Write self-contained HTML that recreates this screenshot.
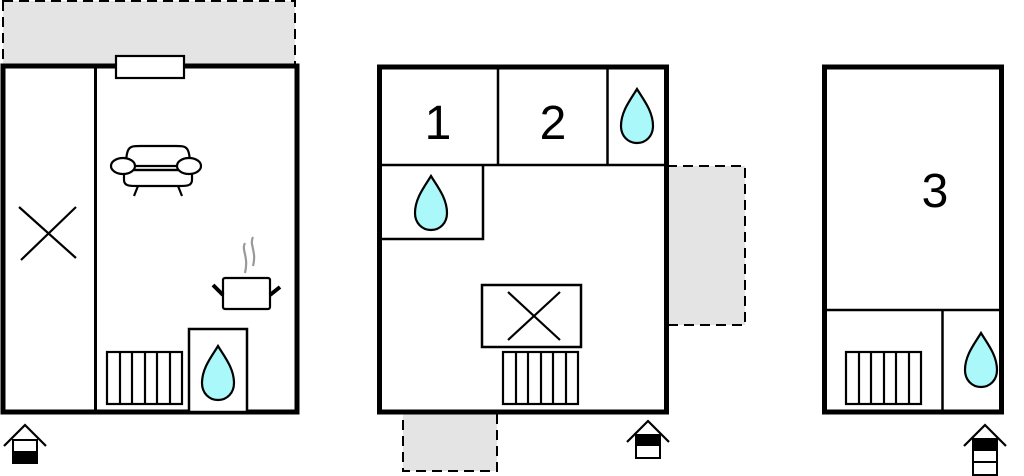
<!DOCTYPE html>
<html><head><style>html,body{margin:0;padding:0;background:#fff}svg{display:block}</style></head>
<body>
<svg width="1024" height="476" viewBox="0 0 1024 476" xmlns="http://www.w3.org/2000/svg">
<defs>
<path id="drop" d="M0,-28 C-6,-18 -16,-6 -16,9 C-16,19 -9,26 0,26 C9,26 16,19 16,9 C16,-6 6,-18 0,-28 Z" fill="#aaf8fa" stroke="#000" stroke-width="2.2"/>
<g id="rad" fill="none" stroke="#000" stroke-width="2.2">
<rect x="0" y="0" width="75" height="52" fill="#fff"/>
<line x1="13" y1="0" x2="13" y2="52"/><line x1="25" y1="0" x2="25" y2="52"/><line x1="38" y1="0" x2="38" y2="52"/><line x1="50" y1="0" x2="50" y2="52"/><line x1="63" y1="0" x2="63" y2="52"/>
</g>
</defs>
<g font-family="Liberation Sans, sans-serif">
<!-- plan 1 -->
<rect x="3" y="1" width="292" height="65" fill="#e4e4e4" stroke="#000" stroke-width="2" stroke-dasharray="10,6"/>
<rect x="3" y="66" width="294" height="346" fill="#fff" stroke="#000" stroke-width="5"/>
<line x1="95.5" y1="66" x2="95.5" y2="412" stroke="#000" stroke-width="3"/>
<rect x="116" y="56" width="68" height="22" fill="#fff" stroke="#000" stroke-width="2.2"/>
<line x1="19" y1="207" x2="76" y2="258" stroke="#000" stroke-width="2.2"/>
<line x1="21" y1="260" x2="76" y2="207" stroke="#000" stroke-width="2.2"/>
<!-- sofa -->
<g fill="#fff" stroke="#000" stroke-width="2.2">
<line x1="138" y1="186" x2="134" y2="196"/><line x1="178" y1="186" x2="182" y2="196"/>
<path d="M126,166 C126,146 130,146 140,146 L176,146 C186,146 190,146 190,166 Z"/>
<path d="M124,170 L124,180 C124,186 130,186 136,186 L180,186 C186,186 192,186 192,180 L192,170 Z"/>
<line x1="134" y1="170" x2="182" y2="170"/>
<ellipse cx="123" cy="166" rx="12" ry="8"/>
<ellipse cx="189" cy="166" rx="12" ry="8"/>
</g>
<!-- pot -->
<path d="M245,243 C241,250 249,256 245,273 M253,237 C249,245 257,251 253,266" fill="none" stroke="#999" stroke-width="2.2"/>
<rect x="223" y="278" width="47" height="31" rx="2" fill="#fff" stroke="#000" stroke-width="2.2"/>
<line x1="213" y1="285" x2="223" y2="295" stroke="#000" stroke-width="4"/>
<line x1="280" y1="287" x2="270" y2="295" stroke="#000" stroke-width="4"/>
<rect x="189" y="329" width="58" height="83" fill="#fff" stroke="#000" stroke-width="2.5"/>
<use href="#drop" x="218" y="374"/>
<use href="#rad" x="107" y="352"/>
<!-- entrance 1 -->
<polyline points="4,446 25,425 46,446" fill="none" stroke="#000" stroke-width="2.2"/>
<rect x="13" y="440" width="24" height="23" fill="#fff" stroke="#000" stroke-width="2"/>
<rect x="13" y="451" width="24" height="12" fill="#000"/>

<!-- plan 2 -->
<rect x="667" y="166" width="78" height="159" fill="#e4e4e4" stroke="#000" stroke-width="2" stroke-dasharray="10,6"/>
<rect x="403" y="412" width="94" height="59" fill="#e4e4e4" stroke="#000" stroke-width="2" stroke-dasharray="10,6"/>
<rect x="379.5" y="67" width="287" height="345" fill="#fff" stroke="#000" stroke-width="5"/>
<g stroke="#000" stroke-width="2.5" fill="none">
<line x1="380" y1="165" x2="667" y2="165"/>
<line x1="498" y1="67" x2="498" y2="165"/>
<line x1="607.5" y1="67" x2="607.5" y2="165"/>
<polyline points="380,239 483,239 483,165"/>
</g>
<text x="438" y="139" font-size="48" text-anchor="middle">1</text>
<text x="553" y="139" font-size="48" text-anchor="middle">2</text>
<use href="#drop" x="637" y="117"/>
<use href="#drop" x="431" y="204"/>
<rect x="482" y="285" width="99" height="62" fill="#fff" stroke="#000" stroke-width="2.5"/>
<line x1="508" y1="292" x2="560" y2="340" stroke="#000" stroke-width="2.2"/>
<line x1="508" y1="340" x2="560" y2="292" stroke="#000" stroke-width="2.2"/>
<use href="#rad" x="503" y="352"/>
<!-- entrance 2 -->
<polyline points="627,442 648,421 669,442" fill="none" stroke="#000" stroke-width="2.2"/>
<rect x="636" y="435" width="24" height="23" fill="#fff" stroke="#000" stroke-width="2"/>
<rect x="636" y="435" width="24" height="11" fill="#000"/>

<!-- plan 3 -->
<rect x="824.5" y="67" width="177" height="345" fill="#fff" stroke="#000" stroke-width="5"/>
<line x1="825" y1="310" x2="1001" y2="310" stroke="#000" stroke-width="2.5"/>
<line x1="942.5" y1="310" x2="942.5" y2="412" stroke="#000" stroke-width="2.5"/>
<text x="935" y="207" font-size="48" text-anchor="middle">3</text>
<use href="#rad" x="846" y="352"/>
<use href="#drop" x="981" y="361"/>
<!-- entrance 3 -->
<polyline points="964,446 985,425 1006,446" fill="none" stroke="#000" stroke-width="2.2"/>
<rect x="973" y="439" width="24" height="36" fill="#fff" stroke="#000" stroke-width="2"/>
<rect x="973" y="439" width="24" height="12" fill="#000"/>
<line x1="973" y1="462" x2="997" y2="462" stroke="#000" stroke-width="2"/>
</g>
</svg>
</body></html>
